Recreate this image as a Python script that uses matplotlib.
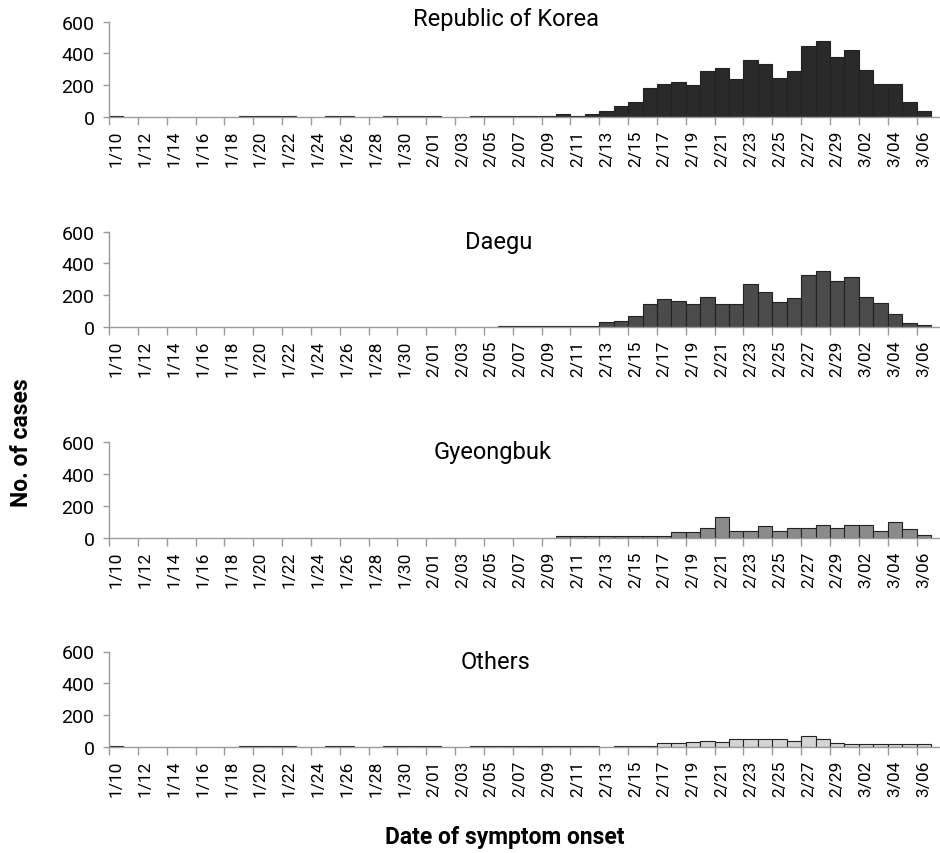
import matplotlib.pyplot as plt
import numpy as np
import pandas as pd

plt.rcParams['font.family'] = ['Roboto', 'DejaVu Sans']

# Daily symptom-onset dates, 1/10 .. 3/06
DATES = pd.date_range("2020-01-10", "2020-03-06")
DATE_LABELS = [f"{d.month}/{d.day:02d}" for d in DATES]

REGIONS = ["Republic of Korea", "Daegu", "Gyeongbuk", "Others"]

KOREA = [8, 0, 0, 0, 0, 0, 0, 0, 0, 8, 8, 8, 8, 0, 0, 8, 8, 0, 0, 8,
         8, 8, 8, 0, 0, 8, 8, 8, 8, 8, 8, 18, 8, 18, 38, 70, 95, 185, 210, 220,
         204, 290, 309, 237, 359, 334, 244, 290, 449, 477, 378, 422, 298, 210, 210, 95, 40]
DAEGU = [0, 0, 0, 0, 0, 0, 0, 0, 0, 0, 0, 0, 0, 0, 0, 0, 0, 0, 0, 0,
         0, 0, 0, 0, 0, 0, 0, 5, 5, 5, 5, 5, 5, 5, 31, 40, 67, 144, 173, 165,
         144, 190, 144, 144, 272, 219, 157, 182, 324, 349, 290, 313, 190, 148, 84, 23, 10]
GYEONGBUK = [0, 0, 0, 0, 0, 0, 0, 0, 0, 0, 0, 0, 0, 0, 0, 0, 0, 0, 0, 0,
             0, 0, 0, 0, 0, 0, 0, 0, 0, 0, 0, 12, 12, 12, 12, 12, 12, 12, 12, 34,
             34, 61, 132, 44, 44, 71, 44, 61, 61, 80, 61, 80, 80, 44, 97, 53, 17]
OTHERS = [6, 0, 0, 0, 0, 0, 0, 0, 0, 6, 6, 6, 6, 0, 0, 6, 6, 0, 0, 6,
          6, 6, 6, 0, 0, 6, 6, 6, 6, 6, 6, 6, 6, 6, 0, 8, 8, 8, 23, 23,
          31, 40, 31, 50, 50, 50, 50, 38, 67, 50, 23, 19, 19, 19, 19, 19, 19]

SERIES = [KOREA, DAEGU, GYEONGBUK, OTHERS]
COLORS = ["#2a2a2a", "#4b4b4b", "#8b8b8b", "#d4d4d4"]
TITLE_X = [27.5, 27.0, 26.6, 26.8]
TITLE_Y = [579, 499, 499, 499]
BOTTOMS = [736, 526, 315.3, 106]

AXIS_GREY = "#9a9a9a"

fig = plt.figure(figsize=(9.4, 8.54), dpi=100)
n = len(DATE_LABELS)
x = np.arange(n)

for name, vals, color, tx, ty, bottom in zip(REGIONS, SERIES, COLORS, TITLE_X, TITLE_Y, BOTTOMS):
    ax = fig.add_axes([109 / 940, bottom / 854, 830.6 / 940, 95.5 / 854])
    vals = np.array(vals)
    keep = vals > 0
    ax.bar(x[keep], vals[keep], width=1, align="edge", color=color,
           edgecolor="#222222", linewidth=0.8, zorder=2)

    ax.set_xlim(0, 57.6)
    ax.set_ylim(0, 600)
    ax.set_yticks([0, 200, 400, 600])
    ax.tick_params(axis="y", length=4.5, width=1, color=AXIS_GREY, pad=6, labelsize=14)

    # tick marks at day edges every two days, labels centred on the day
    ax.set_xticks(x[::2])
    ax.set_xticklabels([])
    ax.set_xticks(x[::2] + 0.5, minor=True)
    ax.set_xticklabels(DATE_LABELS[::2], minor=True, rotation=90, fontsize=12.5)
    ax.tick_params(axis="x", which="major", length=5.5, width=1, color=AXIS_GREY)
    ax.tick_params(axis="x", which="minor", length=0, pad=9)

    for side in ["top", "right"]:
        ax.spines[side].set_visible(False)
    for side in ["left", "bottom"]:
        ax.spines[side].set_color(AXIS_GREY)
        ax.spines[side].set_linewidth(1)
        ax.spines[side].set_zorder(3)

    ax.text(tx, ty, name, ha="center", va="baseline", fontsize=17)

fig.text(22 / 940, 1 - 443 / 854, "No. of cases", rotation=90, ha="center", va="center",
         fontsize=16.5, fontweight="bold")
fig.text(505 / 940, 1 - 838 / 854, "Date of symptom onset", ha="center", va="center",
         fontsize=16.5, fontweight="bold")

fig.savefig("out.png", dpi=100)
